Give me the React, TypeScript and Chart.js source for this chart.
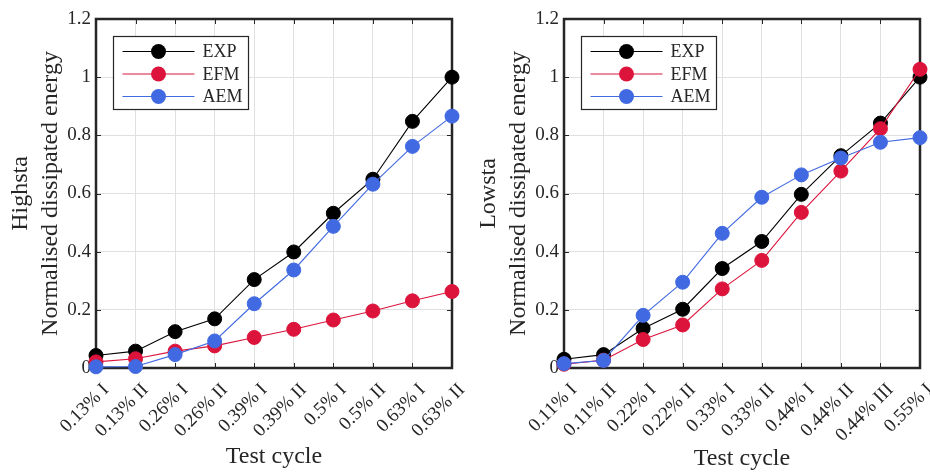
import React, { useEffect, useRef } from 'react';
import { Chart, registerables } from 'chart.js';

Chart.register(...registerables);

// ---------- Data ----------
const highCategories = ['0.13% I', '0.13% II', '0.26% I', '0.26% II', '0.39% I', '0.39% II', '0.5% I', '0.5% II', '0.63% I', '0.63% II'];
const highEXP = [0.043, 0.058, 0.125, 0.169, 0.304, 0.399, 0.532, 0.649, 0.848, 1.0];
const highEFM = [0.021, 0.032, 0.058, 0.076, 0.105, 0.133, 0.165, 0.196, 0.231, 0.263];
const highAEM = [0.004, 0.005, 0.046, 0.093, 0.221, 0.337, 0.487, 0.632, 0.762, 0.866];

const lowCategories = ['0.11% I', '0.11% II', '0.22% I', '0.22% II', '0.33% I', '0.33% II', '0.44% I', '0.44% II', '0.44% III', '0.55% I'];
const lowEXP = [0.030, 0.046, 0.136, 0.202, 0.342, 0.435, 0.597, 0.730, 0.842, 1.0];
const lowEFM = [0.013, 0.027, 0.098, 0.148, 0.272, 0.370, 0.535, 0.677, 0.823, 1.027];
const lowAEM = [0.015, 0.026, 0.181, 0.295, 0.463, 0.587, 0.664, 0.722, 0.776, 0.792];

const seriesNames = ['EXP', 'EFM', 'AEM'];
const seriesColors = ['#000000', '#DC143C', '#4169E1'];
const yMin = 0;
const yMax = 1.2;
const yStep = 0.2;

const FONT = "'Liberation Serif', 'Times New Roman', serif";
const TEXT = '#262626';

const framePlugin = {
  id: 'matlabFrame',
  beforeDatasetsDraw(chart: any) {
    const { ctx, chartArea } = chart;
    const { left, right, top, bottom } = chartArea;
    ctx.save();
    ctx.strokeStyle = TEXT;
    ctx.lineWidth = 1;
    const tl = 5;
    const xs = chart.scales.x;
    const ys = chart.scales.y;
    ctx.beginPath();
    xs.ticks.forEach((_t: any, i: number) => {
      const px = Math.round(xs.getPixelForTick(i)) + 0.5;
      ctx.moveTo(px, bottom);
      ctx.lineTo(px, bottom - tl);
      ctx.moveTo(px, top);
      ctx.lineTo(px, top + tl);
    });
    ys.ticks.forEach((_t: any, i: number) => {
      const py = Math.round(ys.getPixelForTick(i)) + 0.5;
      ctx.moveTo(left, py);
      ctx.lineTo(left + tl, py);
      ctx.moveTo(right, py);
      ctx.lineTo(right - tl, py);
    });
    ctx.stroke();
    ctx.lineWidth = 2.5;
    ctx.strokeRect(left, top, right - left, bottom - top);
    ctx.restore();
  },
};

const legendPlugin = {
  id: 'boxLegend',
  afterDraw(chart: any) {
    const { ctx, chartArea } = chart;
    const bx = Math.round(chartArea.left + 17) + 0.5;
    const by = Math.round(chartArea.top + 17) + 0.5;
    const bw = 135;
    const bh = 73;
    ctx.save();
    ctx.fillStyle = '#ffffff';
    ctx.fillRect(bx, by, bw, bh);
    ctx.strokeStyle = TEXT;
    ctx.lineWidth = 1.2;
    ctx.strokeRect(bx, by, bw, bh);
    chart.data.datasets.forEach((ds: any, i: number) => {
      const y = by + 15 + i * 22.5;
      ctx.strokeStyle = ds.borderColor;
      ctx.lineWidth = 1;
      ctx.beginPath();
      ctx.moveTo(bx + 9, y);
      ctx.lineTo(bx + 81, y);
      ctx.stroke();
      ctx.fillStyle = ds.backgroundColor;
      ctx.beginPath();
      ctx.arc(bx + 45, y, 7.5, 0, Math.PI * 2);
      ctx.fill();
      ctx.fillStyle = TEXT;
      ctx.font = `18px ${FONT}`;
      ctx.textBaseline = 'middle';
      ctx.textAlign = 'left';
      ctx.fillText(ds.label, bx + 89, y + 1);
    });
    ctx.restore();
  },
};

type PanelProps = {
  categories: string[];
  exp: number[];
  efm: number[];
  aem: number[];
  yTitle: string;
  left: number;
  width: number;
  rightPad: number;
  xTitlePad: number;
};

function Panel({ categories, exp, efm, aem, yTitle, left, width, rightPad, xTitlePad }: PanelProps) {
  const ref = useRef<HTMLCanvasElement | null>(null);
  useEffect(() => {
    if (!ref.current) return;
    const values = [exp, efm, aem];
    const orders = [2, 1, 0];
    const chart = new Chart(ref.current, {
      type: 'line',
      data: {
        labels: categories,
        datasets: seriesNames.map((name, i) => ({
          label: name,
          data: values[i],
          borderColor: seriesColors[i],
          backgroundColor: seriesColors[i],
          pointBackgroundColor: seriesColors[i],
          pointBorderColor: seriesColors[i],
          pointRadius: 7,
          pointBorderWidth: 1,
          borderWidth: 1.1,
          tension: 0,
          clip: false as any,
          order: orders[i],
        })),
      },
      plugins: [framePlugin, legendPlugin],
      options: {
        animation: false,
        responsive: false,
        devicePixelRatio: 1,
        events: [],
        layout: { padding: { left: 0, right: rightPad, top: 19, bottom: 0 } },
        plugins: { legend: { display: false }, tooltip: { enabled: false } },
        scales: {
          x: {
            type: 'category',
            offset: false,
            grid: { color: '#e0e0e0', lineWidth: 1, drawTicks: false },
            border: { display: false },
            ticks: {
              autoSkip: false,
              minRotation: 45,
              maxRotation: 45,
              padding: 11,
              labelOffset: 10,
              color: TEXT,
              font: { family: FONT, size: 19 },
            },
            title: {
              display: true,
              text: 'Test cycle',
              color: TEXT,
              font: { family: FONT, size: 24, lineHeight: 1.2 },
              padding: { top: 0, bottom: xTitlePad },
            },
            afterFit: (s: any) => {
              s.height = 105;
              s.paddingLeft = 0;
              s.paddingRight = 0;
            },
          },
          y: {
            min: yMin,
            max: yMax,
            grid: { color: '#e0e0e0', lineWidth: 1, drawTicks: false },
            border: { display: false },
            ticks: {
              stepSize: yStep,
              padding: 5,
              color: TEXT,
              font: { family: FONT, size: 19 },
              callback: (v: any) => String(Math.round(Number(v) * 10) / 10),
            },
            title: {
              display: true,
              text: [yTitle, 'Normalised dissipated energy'],
              color: TEXT,
              font: { family: FONT, size: 24, lineHeight: 1.25 },
              padding: { top: 6, bottom: 0 },
            },
            afterFit: (s: any) => {
              s.width = 96;
              s.paddingTop = 0;
              s.paddingBottom = 0;
            },
          },
        },
      } as any,
    });
    return () => chart.destroy();
  }, []);
  return (
    <canvas
      ref={ref}
      width={width}
      height={473}
      style={{ position: 'absolute', left, top: 0, width, height: 473 }}
    />
  );
}

export default function App() {
  return (
    <div style={{ position: 'fixed', left: 0, top: 0, width: 930, height: 473, background: '#ffffff' }}>
      <Panel categories={highCategories} exp={highEXP} efm={highEFM} aem={highAEM} yTitle="Highsta" left={0} width={465} rightPad={13} xTitlePad={2} />
      <Panel categories={lowCategories} exp={lowEXP} efm={lowEFM} aem={lowAEM} yTitle="Lowsta" left={468} width={462} rightPad={10} xTitlePad={0} />
    </div>
  );
}
